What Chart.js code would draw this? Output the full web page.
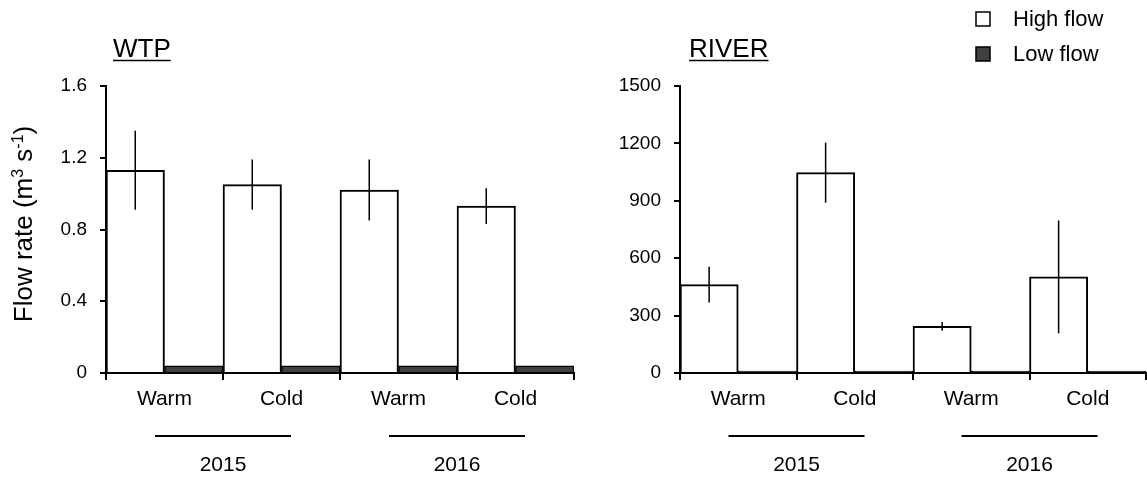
<!DOCTYPE html>
<html>
<head>
<meta charset="utf-8">
<script src="https://cdn.jsdelivr.net/npm/chart.js@4.4.1/dist/chart.umd.min.js"></script>
<style>
  html, body { margin: 0; padding: 0; background: #fff; }
  #wrap { position: relative; width: 1147px; height: 478px; }
  canvas { position: absolute; top: 0; }
  #wtpChart { left: 0; }
  #riverChart { left: 580px; }
</style>
</head>
<body>
<div id="wrap">
  <canvas id="wtpChart" width="580" height="478"></canvas>
  <canvas id="riverChart" width="567" height="478"></canvas>
</div>
<script>
const categories = ['Warm', 'Cold', 'Warm', 'Cold'];
const years = ['2015', '2016'];

// WTP flow rates (m3/s)
const wtpHigh = [1.13, 1.05, 1.02, 0.93];
const wtpHighErr = [0.22, 0.14, 0.17, 0.10];
const wtpLow = [0.04, 0.04, 0.04, 0.04];
const wtpTicks = [0, 0.4, 0.8, 1.2, 1.6];

// RIVER flow rates (m3/s)
const riverHigh = [462, 1047, 244, 502];
const riverHighErr = [93, 157, 23, 295];
const riverLow = [10, 10, 10, 10];
const riverTicks = [0, 300, 600, 900, 1200, 1500];

const FONT = 'Liberation Sans, Arial, sans-serif';
Chart.defaults.font.family = FONT;
Chart.defaults.color = '#000';

// error bars, underlined panel title, year brackets, optional axis title / legend
function panelPlugin(opts) {
    return {
        id: 'panel',
        afterDatasetsDraw(chart) {
            const ctx = chart.ctx;
            const y = chart.scales.y;
            const meta = chart.getDatasetMeta(0);
            const errs = chart.data.datasets[0].errorBars;
            ctx.save();
            ctx.strokeStyle = '#000';
            ctx.lineWidth = 1.5;
            meta.data.forEach((bar, i) => {
                const v = chart.data.datasets[0].data[i];
                ctx.beginPath();
                ctx.moveTo(bar.x, y.getPixelForValue(v + errs[i]));
                ctx.lineTo(bar.x, y.getPixelForValue(v - errs[i]));
                ctx.stroke();
            });
            ctx.restore();
        },
        afterDraw(chart) {
            const ctx = chart.ctx;
            const x = chart.scales.x;
            ctx.save();
            ctx.fillStyle = '#000';
            ctx.strokeStyle = '#000';

            // panel title, underlined
            ctx.font = '26px ' + FONT;
            ctx.textAlign = 'left';
            ctx.textBaseline = 'alphabetic';
            ctx.fillText(opts.title, opts.titleX, 57);
            const tw = ctx.measureText(opts.title).width;
            ctx.lineWidth = 1.5;
            ctx.beginPath();
            ctx.moveTo(opts.titleX, 60.5);
            ctx.lineTo(opts.titleX + tw, 60.5);
            ctx.stroke();

            // year brackets under each warm/cold pair
            ctx.font = '21px ' + FONT;
            ctx.textAlign = 'center';
            ctx.textBaseline = 'middle';
            years.forEach((yr, k) => {
                const a = x.getPixelForValue(2 * k);
                const b = x.getPixelForValue(2 * k + 1);
                const cx = (a + b) / 2;
                ctx.lineWidth = 2;
                ctx.beginPath();
                ctx.moveTo(cx - 68, 436);
                ctx.lineTo(cx + 68, 436);
                ctx.stroke();
                ctx.fillText(yr, cx, 465);
            });

            if (opts.yTitle) {
                ctx.translate(32, 224);
                ctx.rotate(-Math.PI / 2);
                ctx.textBaseline = 'alphabetic';
                const parts = [
                    ['Flow rate (m', 26, 0], ['3', 16, -9], [' s', 26, 0], ['-1', 16, -9], [')', 26, 0]
                ];
                let total = 0;
                parts.forEach(p => { ctx.font = p[1] + 'px ' + FONT; total += ctx.measureText(p[0]).width; });
                let px = -total / 2;
                ctx.textAlign = 'left';
                parts.forEach(p => {
                    ctx.font = p[1] + 'px ' + FONT;
                    ctx.fillText(p[0], px, p[2]);
                    px += ctx.measureText(p[0]).width;
                });
            }

            if (opts.legend) {
                ctx.setTransform(1, 0, 0, 1, 0, 0);
                ctx.font = '22px ' + FONT;
                ctx.textAlign = 'left';
                ctx.textBaseline = 'middle';
                chart.data.datasets.forEach((ds, i) => {
                    const cy = 19 + i * 35;
                    ctx.fillStyle = ds.backgroundColor;
                    ctx.fillRect(396, cy - 7, 14, 14);
                    ctx.lineWidth = 1.5;
                    ctx.strokeRect(396, cy - 7, 14, 14);
                    ctx.fillStyle = '#000';
                    ctx.fillText(ds.label, 433, cy + 1);
                });
            }
            ctx.restore();
        }
    };
}

function makeChart(id, high, err, low, ticks, yWidth, padRight, opts) {
    return new Chart(document.getElementById(id), {
        type: 'bar',
        data: {
            labels: categories,
            datasets: [{
                label: 'High flow',
                data: high,
                errorBars: err,
                backgroundColor: '#ffffff',
                borderColor: '#000',
                borderWidth: 2
            }, {
                label: 'Low flow',
                data: low,
                backgroundColor: '#404040',
                borderColor: '#000',
                borderWidth: 1.5
            }]
        },
        options: {
            responsive: false,
            animation: false,
            categoryPercentage: 1,
            barPercentage: 1,
            layout: { padding: { top: 86, right: padRight, left: 0, bottom: 0 } },
            plugins: { legend: { display: false }, tooltip: { enabled: false } },
            scales: {
                x: {
                    grid: { drawOnChartArea: false, drawTicks: true, tickLength: 7, color: '#000', lineWidth: 2, offset: true },
                    border: { display: true, color: '#000', width: 2 },
                    ticks: { font: { size: 21 }, padding: 7, maxRotation: 0 },
                    afterFit(scale) { scale.height = 105; }
                },
                y: {
                    min: ticks[0],
                    max: ticks[ticks.length - 1],
                    afterBuildTicks(scale) { scale.ticks = ticks.map(v => ({ value: v })); },
                    grid: { drawOnChartArea: false, drawTicks: true, tickLength: 6, color: '#000', lineWidth: 2 },
                    border: { display: true, color: '#000', width: 2 },
                    ticks: { font: { size: 19 }, padding: 13, callback: v => String(v) },
                    afterFit(scale) { scale.width = yWidth; }
                }
            }
        },
        plugins: [panelPlugin(opts)]
    });
}

makeChart('wtpChart', wtpHigh, wtpHighErr, wtpLow, wtpTicks, 106, 6,
    { title: 'WTP', titleX: 113, yTitle: true, legend: false });
makeChart('riverChart', riverHigh, riverHighErr, riverLow, riverTicks, 100, 1,
    { title: 'RIVER', titleX: 109, yTitle: false, legend: true });
</script>
</body>
</html>
